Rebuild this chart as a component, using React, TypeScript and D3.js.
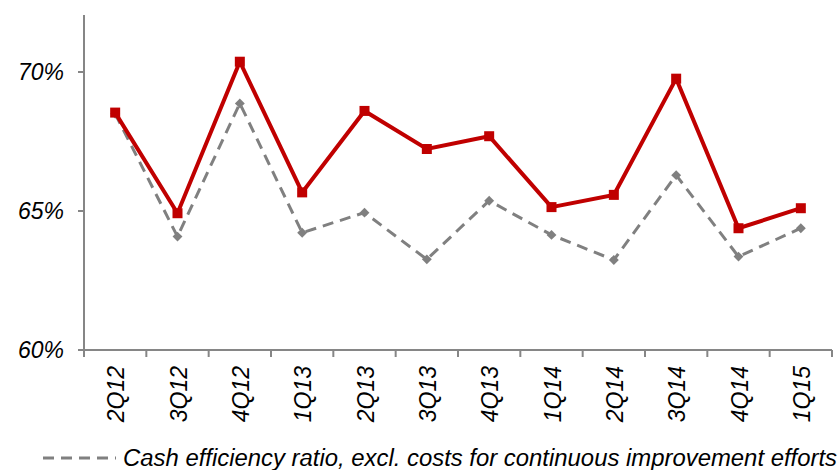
import React from "react";
import * as d3 from "d3";

const categories = ["2Q12","3Q12","4Q12","1Q13","2Q13","3Q13","4Q13","1Q14","2Q14","3Q14","4Q14","1Q15"];
const reportedRatio = [68.54,64.92,70.37,65.67,68.6,67.23,67.69,65.14,65.58,69.76,64.38,65.1];
const exclCostsRatio = [68.5,64.08,68.87,64.22,64.94,63.26,65.37,64.14,63.24,66.29,63.36,64.38];
const yTicks = [60,65,70];
const legendLabel = "Cash efficiency ratio, excl. costs for continuous improvement efforts";

const W = 840, H = 470;
const left = 84, right = 832, top = 15, bottom = 350;
const FONT = "'Liberation Sans', Arial, sans-serif";

export default function App() {
  const x = d3.scaleBand<string>().domain(categories).range([left, right]);
  const y = d3.scaleLinear().domain([60, 60 + (bottom - top) / 139 * 5]).range([bottom, top]);
  const cx = (c: string) => (x(c) as number) + x.bandwidth() / 2;
  const line = d3.line<number>().x((_, i) => cx(categories[i])).y(v => y(v));
  const axisColor = "#868686";
  const red = "#C00000";
  const gray = "#808080";
  const ticksX = categories.map(c => x(c) as number).concat([right]);

  return (
    <svg width={W} height={H} style={{ position: "absolute", left: 0, top: 0, background: "#fff" }} fontFamily={FONT}>
      {/* axes */}
      <line x1={left} x2={left} y1={top} y2={bottom} stroke={axisColor} strokeWidth={2} />
      <line x1={left} x2={right} y1={bottom} y2={bottom} stroke={axisColor} strokeWidth={2} />
      {yTicks.map(t => (
        <g key={t}>
          <line x1={left - 6} x2={left} y1={y(t)} y2={y(t)} stroke={axisColor} strokeWidth={2} />
          <text x={64} y={y(t)} dy="0.35em" textAnchor="end" fontSize={23} fontStyle="italic" fill="#000">{t}%</text>
        </g>
      ))}
      {ticksX.map((tx, i) => (
        <line key={i} x1={tx} x2={tx} y1={bottom} y2={bottom + 7} stroke={axisColor} strokeWidth={2} />
      ))}
      {categories.map(c => (
        <text key={c} transform={`translate(${cx(c) + 1},366) rotate(-90)`} textAnchor="end" dy="0.35em" fontSize={23} fontStyle="italic" fill="#000">{c}</text>
      ))}
      {/* gray dashed series */}
      <path d={line(exclCostsRatio) as string} fill="none" stroke={gray} strokeWidth={3} strokeDasharray="11,7" />
      {exclCostsRatio.map((v, i) => (
        <rect key={i} x={cx(categories[i]) - 3.5} y={y(v) - 3.5} width={7} height={7} fill={gray}
          transform={`rotate(45 ${cx(categories[i])} ${y(v)})`} />
      ))}
      {/* red series */}
      <path d={line(reportedRatio) as string} fill="none" stroke={red} strokeWidth={4} />
      {reportedRatio.map((v, i) => (
        <rect key={i} x={cx(categories[i]) - 5} y={y(v) - 5} width={10} height={10} fill={red} />
      ))}
      {/* legend */}
      <line x1={43} x2={116} y1={458} y2={458} stroke={gray} strokeWidth={3} strokeDasharray="11,7" />
      <text x={123} y={466} fontSize={23} fontStyle="italic" fill="#000" textLength={714} lengthAdjust="spacingAndGlyphs">{legendLabel}</text>
    </svg>
  );
}
